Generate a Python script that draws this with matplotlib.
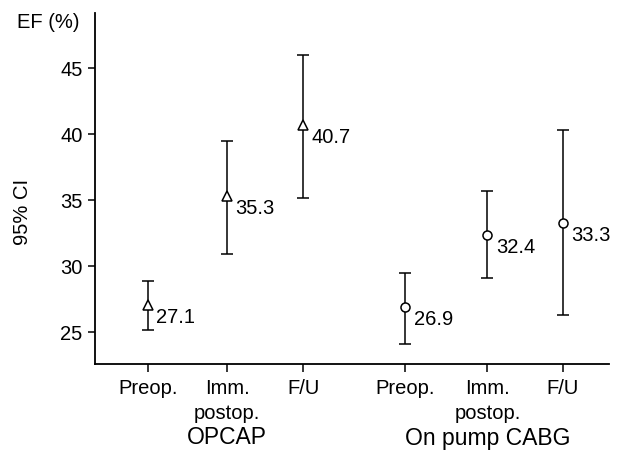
import matplotlib
matplotlib.use('Agg')
import matplotlib.pyplot as plt

plt.rcParams['font.family'] = ['Liberation Sans', 'DejaVu Sans']

# data
groups = ["OPCAP", "On pump CABG"]
timepoints = ["Preop.", "Imm.\npostop.", "F/U"]
opcap_mean = [27.1, 35.3, 40.7]
opcap_low = [25.2, 30.9, 35.2]
opcap_high = [28.9, 39.5, 46.0]
cabg_mean = [26.9, 32.4, 33.3]
cabg_low = [24.1, 29.1, 26.3]
cabg_high = [29.5, 35.7, 40.3]

pos_opcap = [1.0, 2.02, 3.0]
pos_cabg = [4.32, 5.38, 6.35]

FS = 14.5

fig = plt.figure(figsize=(6.19, 4.67), dpi=100)
ax = fig.add_axes([0.1535, 0.2206, 0.8305, 0.7514])


def draw_group(pos, mean, low, high, marker):
    yerr = [[m - l for m, l in zip(mean, low)], [h - m for m, h in zip(mean, high)]]
    ax.errorbar(pos, mean, yerr=yerr, fmt=marker, color='black', mfc='white',
                mec='black', ms=6.5, mew=1.1, elinewidth=1.1, capsize=4.5,
                capthick=1.1, zorder=3)
    for x, m in zip(pos, mean):
        ax.annotate(f"{m:.1f}", (x, m), xytext=(6, -9), textcoords='offset points',
                    ha='left', va='center', fontsize=FS)


draw_group(pos_opcap, opcap_mean, opcap_low, opcap_high, '^')
draw_group(pos_cabg, cabg_mean, cabg_low, cabg_high, 'o')

ax.set_xlim(0.316, 6.95)
ax.set_ylim(22.6, 49.2)
ax.set_yticks([25, 30, 35, 40, 45])
ax.set_xticks(pos_opcap + pos_cabg)
ax.set_xticklabels(timepoints * 2, fontsize=FS, linespacing=1.35)
ax.tick_params(axis='y', labelsize=FS, length=5, width=1.1, pad=4)
ax.tick_params(axis='x', length=6, width=1.1, pad=5)
for s in ['top', 'right']:
    ax.spines[s].set_visible(False)
for s in ['left', 'bottom']:
    ax.spines[s].set_linewidth(1.3)

fig.text(22 / 619, 1 - 212 / 467, "95% CI", fontsize=FS, rotation=90,
         ha='center', va='center')
fig.text(17 / 619, 1 - 22 / 467, "EF (%)", fontsize=FS, ha='left', va='center')

for name, pos in zip(groups, [pos_opcap, pos_cabg]):
    fig.text(ax.transData.transform((pos[1], 0))[0] / fig.bbox.width, 1 - 438 / 467,
             name, ha='center', va='center', fontsize=16.5)

fig.savefig("out.png", dpi=100)
